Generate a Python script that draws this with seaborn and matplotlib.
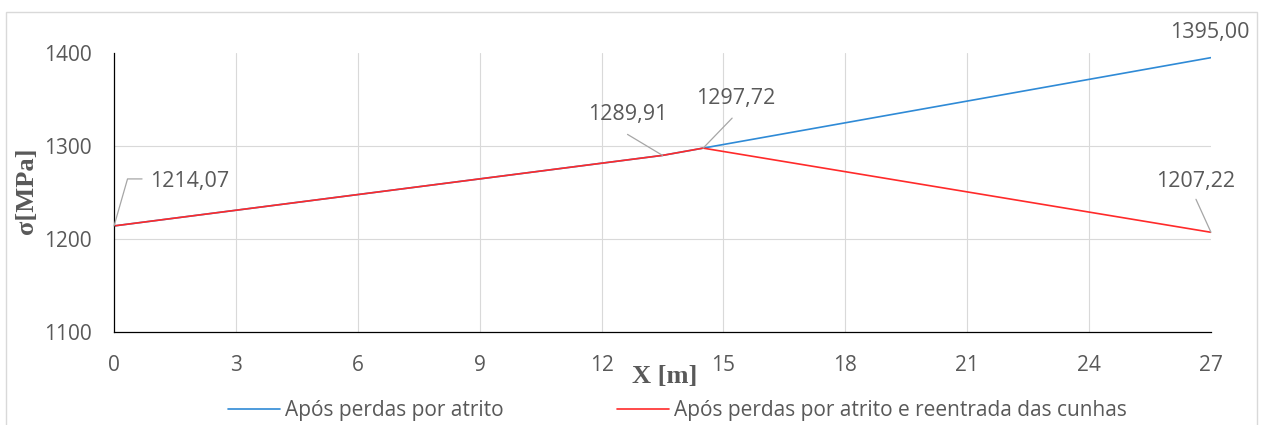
import matplotlib
matplotlib.use("Agg")
import matplotlib.pyplot as plt
from matplotlib.patches import Rectangle
from matplotlib.ticker import MultipleLocator
import seaborn as sns
import pandas as pd

# Stress along the tendon (positions in m, stresses in MPa)
x_pos = [0.0, 13.5, 14.5, 27.0]
sigma_friction = [1214.07, 1289.91, 1297.72, 1395.00]
sigma_friction_wedge = [1214.07, 1289.91, 1297.72, 1207.22]
series_names = ["Após perdas por atrito", "Após perdas por atrito e reentrada das cunhas"]
x_ticks = [0, 3, 6, 9, 12, 15, 18, 21, 24, 27]
y_ticks = [1100, 1200, 1300, 1400]

sns.set_style("white")
plt.rcParams["font.family"] = ["Open Sans", "DejaVu Sans"]

TXT = "#595959"
GRID = "#d9d9d9"
BLUE = "#2f8ad6"
RED = "#ff2a2a"

fig = plt.figure(figsize=(12.63, 4.25), dpi=100)
ax = fig.add_axes([0.0903, 0.2188, 0.8685, 0.6565])

df = pd.DataFrame({
    "x": x_pos * 2,
    "sigma": sigma_friction + sigma_friction_wedge,
    "serie": [series_names[0]] * len(x_pos) + [series_names[1]] * len(x_pos),
})
sns.lineplot(data=df, x="x", y="sigma", hue="serie",
             palette={series_names[0]: BLUE, series_names[1]: RED},
             linewidth=1.2, ax=ax, legend=False, sort=False)

ax.set_xlim(0, 27)
ax.set_ylim(1100, 1400)
ax.set_xticks(x_ticks)
ax.set_yticks(y_ticks)
ax.xaxis.set_minor_locator(MultipleLocator(0.6))

for s in ["top", "right"]:
    ax.spines[s].set_visible(False)
for s in ["left", "bottom"]:
    ax.spines[s].set_color("black")
    ax.spines[s].set_linewidth(0.9)

ax.tick_params(axis="x", which="major", direction="inout", length=11, width=0.9,
               color="black", labelsize=15, labelcolor=TXT, pad=11)
ax.tick_params(axis="x", which="minor", direction="out", length=3.6, width=0.9, color="black")
ax.tick_params(axis="y", which="major", direction="in", length=6, width=0.9,
               color="black", labelsize=15, labelcolor=TXT, pad=16)

ax.grid(True, which="major", color=GRID, linewidth=0.8)
for t, gl in zip(ax.get_xticks(), ax.xaxis.get_gridlines()):
    if t in (0, 27):
        gl.set_visible(False)
for t, gl in zip(ax.get_yticks(), ax.yaxis.get_gridlines()):
    if t in (1100, 1400):
        gl.set_visible(False)

ax.set_xlabel("X [m]", family="Liberation Serif", fontweight="bold", fontsize=19, color=TXT)
ax.set_ylabel("σ[MPa]", family="Liberation Serif", fontweight="bold", fontsize=19, color=TXT)
ax.xaxis.label.set_va("center")
ax.yaxis.label.set_va("center")
ax.xaxis.set_label_coords(0.502, -0.158)
ax.yaxis.set_label_coords(-0.080, 0.505)

# Value labels with leader lines
lead = dict(arrowstyle="-", color="#a6a6a6", lw=0.9, shrinkA=0, shrinkB=0)
labels = [
    # (x, y, label offset px, leader end offset px, connection)
    (x_pos[0], sigma_friction_wedge[0], (76, 44), (28, 47), "angle,angleA=0,angleB=74,rad=0"),
    (x_pos[1], sigma_friction_wedge[1], (-35, 41), (-35, 21), None),
    (x_pos[2], sigma_friction_wedge[2], (33, 50), (29, 30), None),
    (x_pos[3], sigma_friction[3], (-1, 25), None, None),
    (x_pos[3], sigma_friction_wedge[3], (-15, 51), (-15, 33), None),
]
for xv, yv, off, lend, conn in labels:
    txt = f"{yv:.2f}".replace(".", ",")
    ax.annotate(txt, xy=(xv, yv), xytext=off, textcoords="offset pixels",
                ha="center", va="center", fontsize=15.5, color=TXT, annotation_clip=False)
    if lend is not None:
        props = dict(lead)
        if conn:
            props["connectionstyle"] = conn
        ax.annotate("", xy=(xv, yv), xytext=lend, textcoords="offset pixels",
                    arrowprops=props, annotation_clip=False)

handles = [plt.Line2D([], [], color=BLUE, lw=1.2), plt.Line2D([], [], color=RED, lw=1.2)]
fig.legend(handles, series_names, loc="center", bbox_to_anchor=(0.5364, 0.033), ncol=2,
           frameon=False, fontsize=15, labelcolor=TXT, handlelength=2.5,
           handletextpad=0.25, columnspacing=5.4, borderpad=0.2)

# Chart area border
fig.add_artist(Rectangle((6 / 1263, -0.05), 1251 / 1263, (1 - 12 / 425) + 0.05,
                         transform=fig.transFigure, fill=False, edgecolor=GRID, lw=1))

fig.savefig("out.png", dpi=100)
